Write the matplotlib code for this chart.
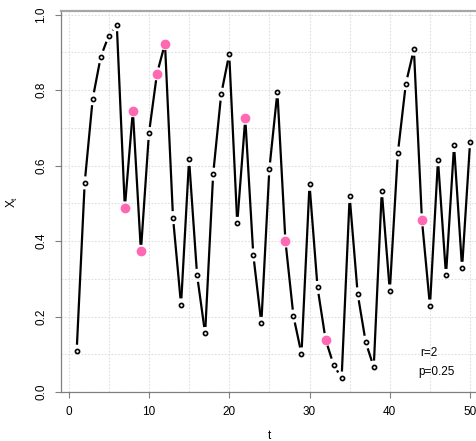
import numpy as np
import matplotlib
matplotlib.use('Agg')
import matplotlib.pyplot as plt

plt.rcParams['font.family'] = ['Liberation Sans', 'DejaVu Sans']

# series
t = list(range(1, 51))
x_t = [0.108, 0.554, 0.777, 0.888, 0.944, 0.973, 0.488, 0.745, 0.373, 0.685,
       0.843, 0.923, 0.462, 0.231, 0.616, 0.309, 0.155, 0.577, 0.789, 0.895,
       0.447, 0.725, 0.363, 0.182, 0.591, 0.795, 0.400, 0.201, 0.101, 0.550,
       0.277, 0.139, 0.072, 0.037, 0.518, 0.260, 0.132, 0.066, 0.533, 0.268,
       0.633, 0.817, 0.908, 0.456, 0.228, 0.615, 0.309, 0.653, 0.328, 0.663]
# time points drawn in pink
pink_t = [7, 8, 9, 11, 12, 22, 27, 32, 44]

x_ticks = [0, 10, 20, 30, 40, 50]
y_ticks = [0.0, 0.2, 0.4, 0.6, 0.8, 1.0]
note_r = 'r=2'
note_p = 'p=0.25'

fig = plt.figure(figsize=(4.77, 4.41), dpi=100)
ax = fig.add_axes([61 / 477, 49 / 441, 416 / 477, 381 / 441])
ax.set_xlim(-0.95, 50.86)
ax.set_ylim(0, 1.0093)

# grid
for g in np.arange(0, 51, 5):
    ax.axvline(g, color='#dedede', lw=0.8, ls=(0, (1.5, 1.5)), zorder=0)
for g in np.arange(0, 1.01, 0.1):
    ax.axhline(g, color='#dedede', lw=0.8, ls=(0, (1.5, 1.5)), zorder=0)

# line with gaps around the points (R type="b")
trans = ax.transData
pts = trans.transform(np.column_stack([t, x_t]))
gap = 6.5
for i in range(len(pts) - 1):
    a, b = pts[i], pts[i + 1]
    d = b - a
    L = np.hypot(*d)
    if L <= 2 * gap:
        continue
    u = d / L
    seg = trans.inverted().transform(np.array([a + u * gap, b - u * gap]))
    ax.plot(seg[:, 0], seg[:, 1], color='black', lw=1.6, solid_capstyle='butt', zorder=2)

black_t = [ti for ti in t if ti not in pink_t]
black_x = [x_t[ti - 1] for ti in black_t]
pink_x = [x_t[ti - 1] for ti in pink_t]
ax.plot(black_t, black_x, ls='none', marker='o', ms=3.0, mfc='none', mec='black', mew=1.2, zorder=3)
ax.plot(pink_t, pink_x, ls='none', marker='o', ms=6.0, mfc='#ff69b4', mec='#ff69b4', zorder=3)

ax.text(43.8, 0.103, note_r, fontsize=8.5, va='center', ha='left')
ax.text(43.5, 0.053, note_p, fontsize=8.5, va='center', ha='left')

ax.set_xticks(x_ticks)
ax.set_yticks(y_ticks)
ax.set_yticklabels(['%.1f' % v for v in y_ticks], rotation=90, va='center')
ax.tick_params(axis='both', labelsize=8.5, length=4.3, width=0.8, color='#808080', pad=5.5)

for side in ['left', 'bottom']:
    ax.spines[side].set_color('#808080')
    ax.spines[side].set_linewidth(0.9)
ax.spines['top'].set_color('#a6a6a6')
ax.spines['top'].set_linewidth(1.6)
ax.spines['right'].set_visible(False)

ax.set_xlabel('t', fontsize=8.5, labelpad=9)
ax.set_ylabel(r'X$_\mathregular{t}$', fontsize=8.5, labelpad=11)

fig.savefig('out.png', dpi=100)
